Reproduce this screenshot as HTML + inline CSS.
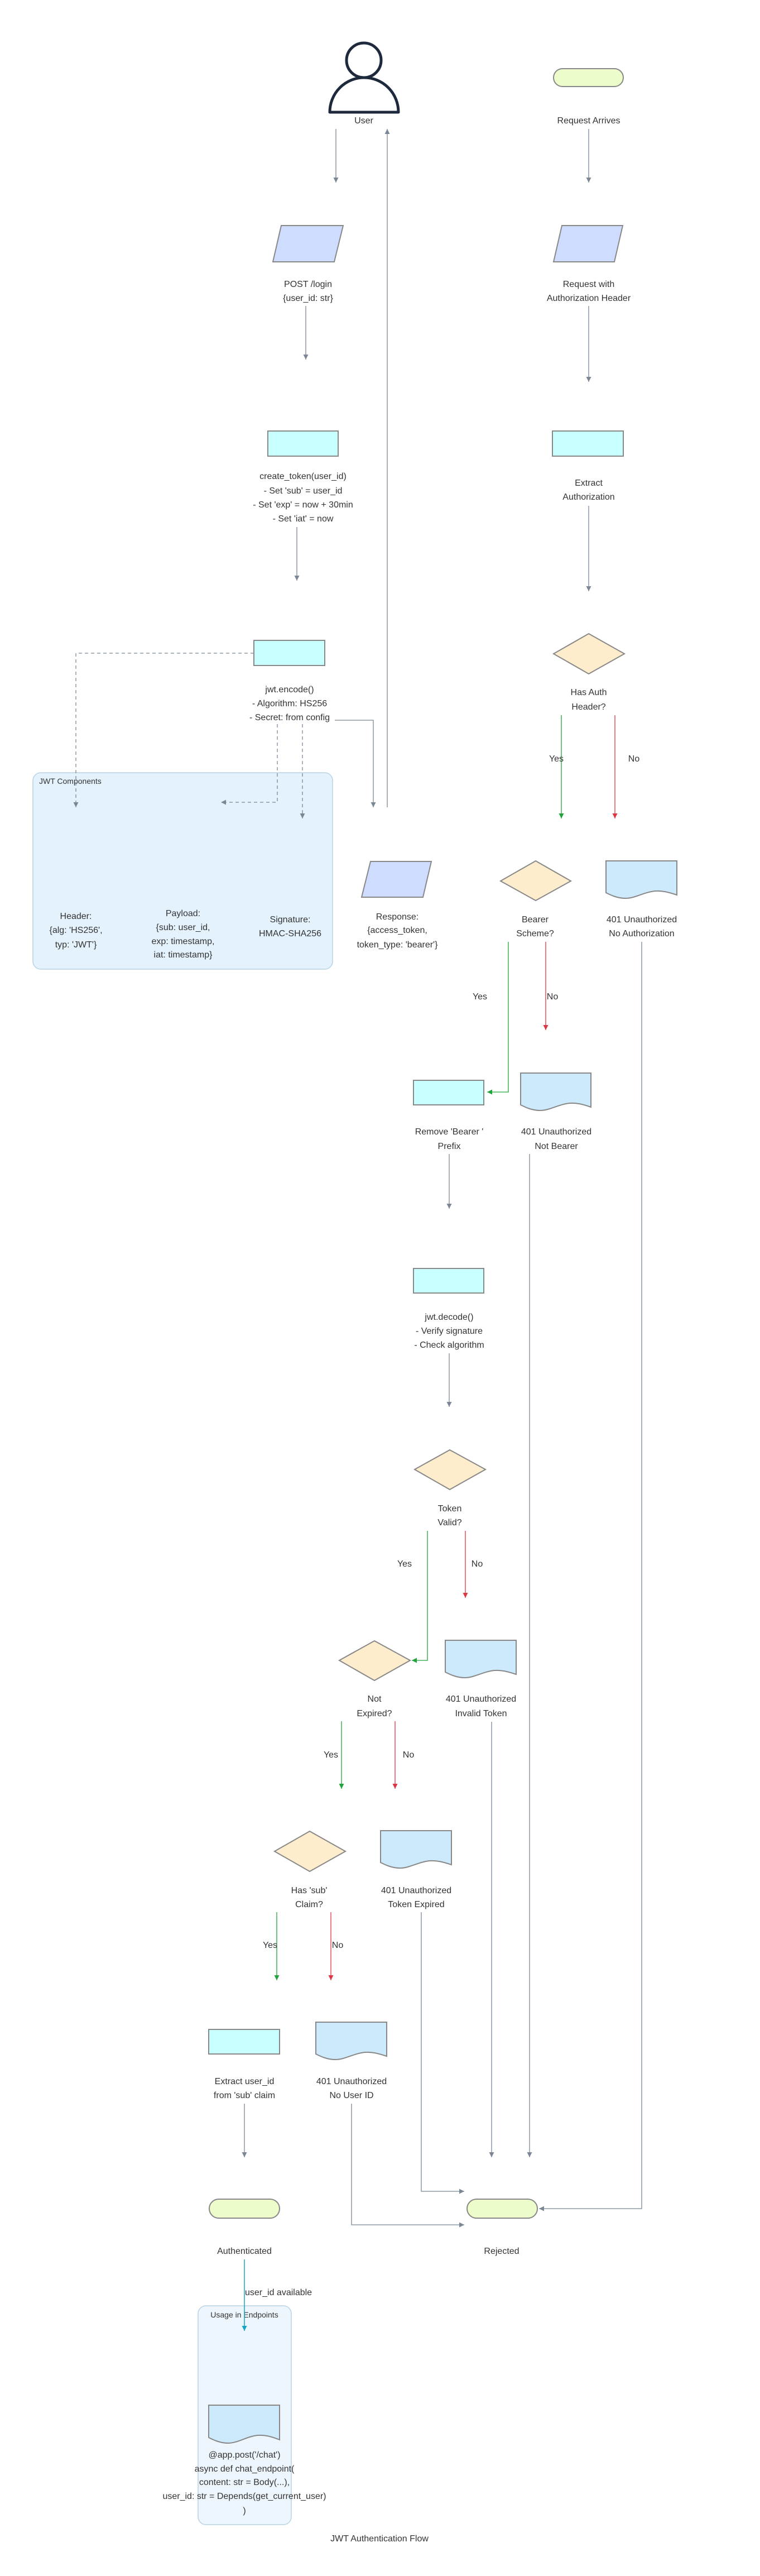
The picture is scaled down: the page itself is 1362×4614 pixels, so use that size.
<!DOCTYPE html>
<html><head><meta charset="utf-8"><style>
html,body{margin:0;padding:0;background:#fff}
svg{display:block}
text{font-family:"Liberation Sans",sans-serif;font-size:16px;fill:#333;text-anchor:middle}
.l{text-anchor:start}
.e{fill:none;stroke:#7b8794;stroke-width:1.3}
.g{fill:none;stroke:#22a33a;stroke-width:1.3}
.r{fill:none;stroke:#dc3545;stroke-width:1.3}
.c{fill:none;stroke:#12a5c4;stroke-width:1.5}
.d{fill:none;stroke:#7b8794;stroke-width:1.3;stroke-dasharray:6,5}
.term{fill:#ecfccb;stroke:#888;stroke-width:2}
.para{fill:#cddcff;stroke:#888;stroke-width:2}
.rect{fill:#c8ffff;stroke:#888;stroke-width:2}
.dia{fill:#fdedcd;stroke:#888;stroke-width:2}
.doc{fill:#cdeafc;stroke:#888;stroke-width:2}
</style></head><body>
<svg width="1362" height="4614" viewBox="0 0 1362 4614" xmlns="http://www.w3.org/2000/svg">
<defs>
<marker id="ag" viewBox="0 0 10 10" refX="10" refY="5" markerWidth="10" markerHeight="14" markerUnits="userSpaceOnUse" orient="auto"><path d="M0,0 L10,5 L0,10 Z" fill="#7b8794"/></marker>
<marker id="agn" viewBox="0 0 10 10" refX="10" refY="5" markerWidth="14" markerHeight="9" markerUnits="userSpaceOnUse" orient="auto"><path d="M0,0 L10,5 L0,10 Z" fill="#7b8794"/></marker>
<marker id="aG" viewBox="0 0 10 10" refX="10" refY="5" markerWidth="14" markerHeight="9" markerUnits="userSpaceOnUse" orient="auto"><path d="M0,0 L10,5 L0,10 Z" fill="#22a33a"/></marker>
<marker id="aR" viewBox="0 0 10 10" refX="10" refY="5" markerWidth="14" markerHeight="9" markerUnits="userSpaceOnUse" orient="auto"><path d="M0,0 L10,5 L0,10 Z" fill="#dc3545"/></marker>
<marker id="aC" viewBox="0 0 10 10" refX="10" refY="5" markerWidth="14" markerHeight="9" markerUnits="userSpaceOnUse" orient="auto"><path d="M0,0 L10,5 L0,10 Z" fill="#12a5c4"/></marker>
</defs>

<!-- clusters -->
<rect x="59" y="1384" width="537" height="352" rx="14" fill="#e3f2fc" stroke="#b8d2e4" stroke-width="1.5"/>
<text x="70" y="1404" class="l" style="font-size:14px">JWT Components</text>
<rect x="355" y="4130" width="167" height="392" rx="14" fill="#eef6fd" stroke="#b8d2e4" stroke-width="1.5"/>
<text x="438" y="4151" style="font-size:14px">Usage in Endpoints</text>

<!-- edges -->
<path class="e" d="M602,231 V327" marker-end="url(#agn)"/>
<path class="e" d="M694,1446 V231" marker-end="url(#agn)"/>
<path class="e" d="M1055,231 V327" marker-end="url(#agn)"/>
<path class="e" d="M548,548 V644" marker-end="url(#agn)"/>
<path class="e" d="M1055,548 V684" marker-end="url(#agn)"/>
<path class="e" d="M532,944 V1040" marker-end="url(#agn)"/>
<path class="e" d="M1055,906 V1059" marker-end="url(#agn)"/>
<path class="d" d="M455,1170 H136 V1446" marker-end="url(#agn)"/>
<path class="d" d="M497,1297 V1437 H396" marker-end="url(#agn)"/>
<path class="d" d="M542,1297 V1466" marker-end="url(#agn)"/>
<path class="e" d="M600,1290 H669 V1446" marker-end="url(#agn)"/>
<path class="g" d="M1006,1281 V1466" marker-end="url(#aG)"/>
<path class="r" d="M1102,1281 V1466" marker-end="url(#aR)"/>
<text x="997" y="1364">Yes</text><text x="1136" y="1364">No</text>
<path class="e" d="M1150,1687 V3956 H966" marker-end="url(#agn)"/>
<path class="g" d="M911,1687 V1956 H873" marker-end="url(#aG)"/>
<path class="r" d="M978,1687 V1845" marker-end="url(#aR)"/>
<text x="860" y="1790">Yes</text><text x="990" y="1790">No</text>
<path class="e" d="M805,2067 V2165" marker-end="url(#agn)"/>
<path class="e" d="M949,2067 V3864" marker-end="url(#agn)"/>
<path class="e" d="M805,2424 V2520" marker-end="url(#agn)"/>
<path class="g" d="M766,2742 V2974 H738" marker-end="url(#aG)"/>
<path class="r" d="M834,2742 V2862" marker-end="url(#aR)"/>
<text x="725" y="2806">Yes</text><text x="855" y="2806">No</text>
<path class="e" d="M881,3084 V3864" marker-end="url(#agn)"/>
<path class="g" d="M612,3083 V3204" marker-end="url(#aG)"/>
<path class="r" d="M708,3083 V3204" marker-end="url(#aR)"/>
<text x="593" y="3148">Yes</text><text x="732" y="3148">No</text>
<path class="e" d="M755,3425 V3925 H832" marker-end="url(#agn)"/>
<path class="g" d="M496,3425 V3547" marker-end="url(#aG)"/>
<path class="r" d="M593,3425 V3547" marker-end="url(#aR)"/>
<text x="484" y="3489">Yes</text><text x="605" y="3489">No</text>
<path class="e" d="M438,3768 V3864" marker-end="url(#agn)"/>
<path class="e" d="M630,3768 V3985 H832" marker-end="url(#agn)"/>
<path class="c" d="M438,4047 V4175" marker-end="url(#aC)"/>
<text x="439" y="4111" class="l">user_id available</text>

<!-- User -->
<circle cx="652" cy="108" r="31" fill="#fff" stroke="#1e293b" stroke-width="5"/>
<path d="M591,201 A61.5,62 0 0 1 714,201 Z" fill="#fff" stroke="#1e293b" stroke-width="5" stroke-linejoin="round"/>
<text x="652" y="221">User</text>

<!-- Request Arrives -->
<rect class="term" x="992" y="123" width="125" height="32" rx="16"/>
<text x="1055" y="221">Request Arrives</text>

<!-- parallelograms -->
<path class="para" d="M504,404 H615 L599,469 H489 Z"/>
<text x="552" y="514">POST /login</text><text x="552" y="539">{user_id: str}</text>
<path class="para" d="M1007,404 H1116 L1101,469 H992 Z"/>
<text x="1055" y="514">Request with</text><text x="1055" y="539">Authorization Header</text>

<rect class="rect" x="480" y="772" width="126" height="45"/>
<text x="543" y="858">create_token(user_id)</text>
<text x="543" y="884">- Set 'sub' = user_id</text>
<text x="543" y="909">- Set 'exp' = now + 30min</text>
<text x="543" y="934">- Set 'iat' = now</text>

<rect class="rect" x="990" y="772" width="127" height="45"/>
<text x="1055" y="870">Extract</text><text x="1055" y="895">Authorization</text>

<rect class="rect" x="455" y="1147" width="127" height="45"/>
<text x="519" y="1240">jwt.encode()</text>
<text x="519" y="1265">- Algorithm: HS256</text>
<text x="519" y="1290">- Secret: from config</text>

<path class="dia" d="M1055,1135 L1119,1171 L1055,1207 L992,1171 Z"/>
<text x="1055" y="1245">Has Auth</text><text x="1055" y="1271">Header?</text>

<text x="136" y="1646">Header:</text><text x="136" y="1671">{alg: 'HS256',</text><text x="136" y="1697">typ: 'JWT'}</text>
<text x="328" y="1641">Payload:</text><text x="328" y="1666">{sub: user_id,</text><text x="328" y="1691">exp: timestamp,</text><text x="328" y="1715">iat: timestamp}</text>
<text x="520" y="1652">Signature:</text><text x="520" y="1677">HMAC-SHA256</text>

<path class="para" d="M664,1543 H773 L758,1607 H648 Z"/>
<text x="712" y="1647">Response:</text><text x="712" y="1671">{access_token,</text><text x="712" y="1697">token_type: 'bearer'}</text>

<path class="dia" d="M960,1542 L1023,1578 L960,1613 L897,1578 Z"/>
<text x="959" y="1652">Bearer</text><text x="959" y="1677">Scheme?</text>

<g transform="translate(1086,1542)"><path class="doc" d="M0,0 H127 V61 C112,56 100,53 88,54 C68,56 52,67 35,67 C20,67 8,61 0,57 Z"/></g>
<text x="1150" y="1652">401 Unauthorized</text><text x="1150" y="1677">No Authorization</text>

<rect class="rect" x="741" y="1935" width="126" height="44"/>
<text x="805" y="2032">Remove 'Bearer '</text><text x="805" y="2058">Prefix</text>

<g transform="translate(933,1922)"><path class="doc" d="M0,0 H126 V61 C112,56 100,53 88,54 C68,56 52,67 35,67 C20,67 8,61 0,57 Z"/></g>
<text x="997" y="2032">401 Unauthorized</text><text x="997" y="2058">Not Bearer</text>

<rect class="rect" x="741" y="2272" width="126" height="44"/>
<text x="805" y="2364">jwt.decode()</text><text x="805" y="2389">- Verify signature</text><text x="805" y="2414">- Check algorithm</text>

<path class="dia" d="M806,2597 L870,2632 L806,2668 L743,2632 Z"/>
<text x="806" y="2707">Token</text><text x="806" y="2732">Valid?</text>

<path class="dia" d="M671,2939 L735,2974 L671,3010 L608,2974 Z"/>
<text x="671" y="3048">Not</text><text x="671" y="3074">Expired?</text>

<g transform="translate(798,2938)"><path class="doc" d="M0,0 H127 V61 C112,56 100,53 88,54 C68,56 52,67 35,67 C20,67 8,61 0,57 Z"/></g>
<text x="862" y="3048">401 Unauthorized</text><text x="862" y="3074">Invalid Token</text>

<path class="dia" d="M555,3280 L619,3316 L555,3352 L492,3316 Z"/>
<text x="554" y="3391">Has 'sub'</text><text x="554" y="3416">Claim?</text>

<g transform="translate(682,3279)"><path class="doc" d="M0,0 H127 V61 C112,56 100,53 88,54 C68,56 52,67 35,67 C20,67 8,61 0,57 Z"/></g>
<text x="746" y="3391">401 Unauthorized</text><text x="746" y="3416">Token Expired</text>

<rect class="rect" x="374" y="3635" width="127" height="44"/>
<text x="438" y="3733">Extract user_id</text><text x="438" y="3758">from 'sub' claim</text>

<g transform="translate(566,3622)"><path class="doc" d="M0,0 H127 V61 C112,56 100,53 88,54 C68,56 52,67 35,67 C20,67 8,61 0,57 Z"/></g>
<text x="630" y="3733">401 Unauthorized</text><text x="630" y="3758">No User ID</text>

<rect class="term" x="375" y="3939" width="126" height="34" rx="17"/>
<text x="438" y="4037">Authenticated</text>
<rect class="term" x="837" y="3939" width="126" height="34" rx="17"/>
<text x="899" y="4037">Rejected</text>

<g transform="translate(374,4308)"><path class="doc" d="M0,0 H127 V62 C112,56 100,53 88,54 C68,56 52,68 35,68 C20,68 8,62 0,58 Z"/></g>
<text x="438" y="4402">@app.post('/chat')</text>
<text x="438" y="4427">async def chat_endpoint(</text>
<text x="438" y="4451">content: str = Body(...),</text>
<text x="438" y="4476">user_id: str = Depends(get_current_user)</text>
<text x="438" y="4502">)</text>

<text x="680" y="4552">JWT Authentication Flow</text>
</svg>
</body></html>
